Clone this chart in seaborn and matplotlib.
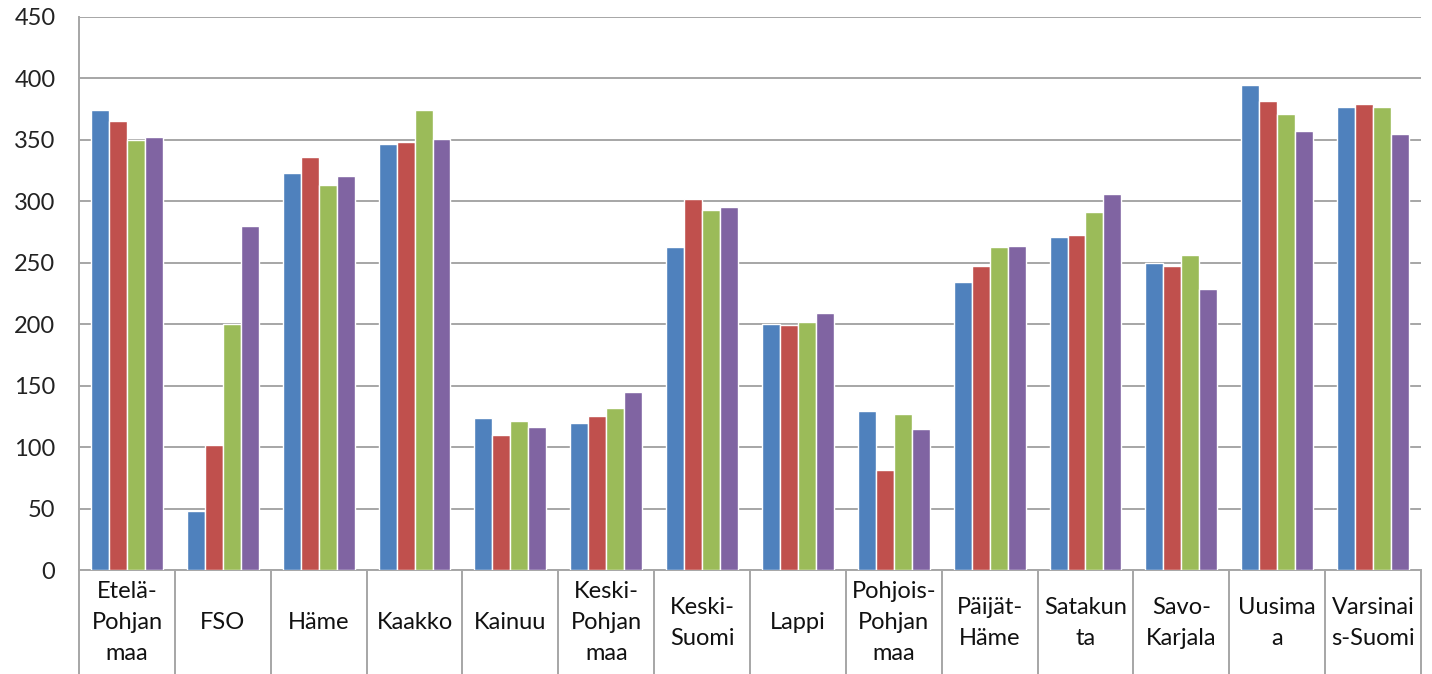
import pandas as pd
import matplotlib.pyplot as plt
import matplotlib.transforms as mtransforms
import seaborn as sns

# alueet (tick labels with the line breaks as in the original)
regions = ["Etelä-\nPohjan\nmaa", "FSO", "Häme", "Kaakko", "Kainuu",
           "Keski-\nPohjan\nmaa", "Keski-\nSuomi", "Lappi",
           "Pohjois-\nPohjan\nmaa", "Päijät-\nHäme", "Satakun\nta",
           "Savo-\nKarjala", "Uusima\na", "Varsinai\ns-Suomi"]

series_names = ["s1", "s2", "s3", "s4"]
s1 = [374, 48, 323, 347, 124, 120, 263, 200, 129, 234, 271, 250, 395, 377]
s2 = [365, 102, 336, 348, 110, 125, 302, 199, 81, 247, 273, 247, 382, 379]
s3 = [350, 200, 313, 374, 121, 132, 293, 202, 127, 263, 291, 256, 371, 377]
s4 = [352, 280, 321, 351, 116, 145, 295, 209, 115, 264, 306, 229, 357, 355]

colors = ["#4F81BD", "#C0504D", "#9BBB59", "#8064A2"]

rows = []
for name, vals in zip(series_names, [s1, s2, s3, s4]):
    for r, v in zip(regions, vals):
        rows.append({"region": r, "series": name, "value": v})
df = pd.DataFrame(rows)

sns.set_style("white")
plt.rcParams['font.family'] = ['Lato', 'DejaVu Sans']

fig = plt.figure(figsize=(14.32, 6.74), dpi=100)
ax = fig.add_axes([0.0552, 0.1543, 0.9371, 0.8205])

sns.barplot(data=df, x="region", y="value", hue="series", palette=colors,
            width=0.75, saturation=1, ax=ax, legend=False, zorder=3)

ax.set_ylim(0, 450)
ax.set_xlim(-0.5, len(regions) - 0.5)
ax.set_yticks(range(0, 451, 50))
ax.yaxis.grid(True, color="#A6A6A6", linewidth=1.4, zorder=0)
ax.set_axisbelow(True)
ax.set_xlabel("")
ax.set_ylabel("")

for s in ["top", "right"]:
    ax.spines[s].set_visible(False)
for s in ["left", "bottom"]:
    ax.spines[s].set_color("#A6A6A6")
    ax.spines[s].set_linewidth(1.4)

ax.tick_params(axis="y", length=0, pad=17, labelsize=17, labelcolor="#222222")
ax.tick_params(axis="x", length=0, pad=38, labelsize=17, labelcolor="#111111")
for lab in ax.get_xticklabels():
    lab.set_va("center")
    lab.set_linespacing(1.6)

# category boxes below the axis
trans = mtransforms.blended_transform_factory(ax.transData, ax.transAxes)
for i in range(len(regions) + 1):
    ax.plot([i - 0.5, i - 0.5], [0, -0.2], transform=trans, color="#A6A6A6",
            linewidth=1.4, clip_on=False)

fig.savefig("out.png", dpi=100)
